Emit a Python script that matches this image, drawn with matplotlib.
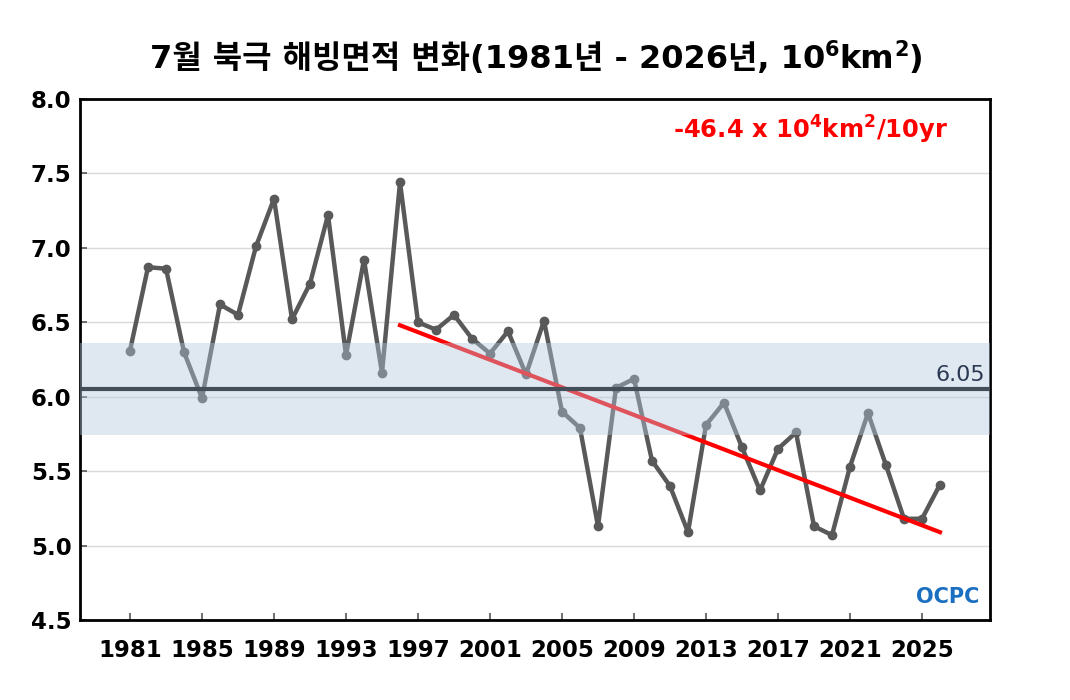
import matplotlib
matplotlib.use("Agg")
import matplotlib.pyplot as plt
import numpy as np

plt.rcParams['font.family'] = ['DejaVu Sans']
plt.rcParams['mathtext.fontset'] = 'custom'
plt.rcParams['mathtext.rm'] = 'DejaVu Sans:bold'
plt.rcParams['mathtext.bf'] = 'DejaVu Sans:bold'

# 7월 해빙면적 (10^6 km2)
years = list(range(1981, 2027))
extent = [6.31, 6.87, 6.86, 6.30, 5.99, 6.62, 6.55, 7.01, 7.33, 6.52,
          6.76, 7.22, 6.28, 6.92, 6.16, 7.44, 6.50, 6.45, 6.55, 6.39,
          6.29, 6.44, 6.15, 6.51, 5.90, 5.79, 5.13, 6.06, 6.12, 5.57,
          5.40, 5.09, 5.81, 5.96, 5.66, 5.37, 5.65, 5.76, 5.13, 5.07,
          5.53, 5.89, 5.54, 5.18, 5.18, 5.41]
clim_mean = 6.05
clim_std = 0.31
trend_years = [1996, 2026]
trend_vals = [6.48, 5.09]
trend_text = r'-46.4 x 10$^{4}$km$^{2}$/10yr'
# 제목 조각 (글자, 위첨자 여부)
title_parts = [('7월 북극 해빙면적 변화(1981년 - 2026년, 10', False), ('6', True),
               ('km', False), ('2', True), (')', False)]
xtick_years = list(range(1981, 2026, 4))
yticks = [4.5, 5.0, 5.5, 6.0, 6.5, 7.0, 7.5, 8.0]

fig = plt.figure(figsize=(10.7, 7.0), dpi=100)
ax = fig.add_axes([80 / 1070, 80 / 700, 910 / 1070, 521 / 700])

ax.plot(years, extent, color='#595959', lw=3.2, marker='o', ms=6, zorder=3)
ax.plot(trend_years, trend_vals, color='#ff0000', lw=3, zorder=4)
ax.axhspan(clim_mean - clim_std, clim_mean + clim_std, color='#b3c8dd', alpha=0.42, lw=0, zorder=5)
ax.axhline(clim_mean, color='#444e58', lw=3, zorder=6)
ax.text(0.995, clim_mean + 0.03, '%.2f' % clim_mean, transform=ax.get_yaxis_transform(),
        ha='right', va='bottom', fontsize=16, color='#2b3a52', zorder=7)

ax.text(0.954, 0.94, trend_text, transform=ax.transAxes, ha='right', va='center',
        fontsize=17.5, fontweight='bold', color='#ff0000')
ax.text(0.988, 0.045, 'OCPC', transform=ax.transAxes, ha='right', va='center',
        fontsize=15, fontweight='bold', color='#1a6fc0')

ax.set_xlim(1981 - 50 / 18, 1981 + 860 / 18)
ax.set_ylim(4.5, 8.0)
ax.set_xticks(xtick_years)
ax.set_yticks(yticks)
ax.set_yticklabels(['%.1f' % v for v in yticks])
ax.grid(axis='y', color='#d9d9d9', lw=1, zorder=1)
ax.set_axisbelow(True)
for s in ax.spines.values():
    s.set_linewidth(2)
    s.set_color('black')
ax.tick_params(direction='in', length=5, width=1.2, color='#555555', labelsize=16.5)
ax.tick_params(axis='x', pad=14)
ax.tick_params(axis='y', pad=6)
for lab in ax.get_xticklabels() + ax.get_yticklabels():
    lab.set_fontweight('bold')

# 제목: 조각들을 앞 조각 오른쪽 끝에 이어 붙임
fam = ['DejaVu Sans', 'Noto Sans CJK KR']
prev = fig.text(150 / 1070, 0.915, title_parts[0][0], ha='left', va='center',
                fontsize=23, fontweight='bold', family=fam)
base = prev
for txt, sup in title_parts[1:]:
    if sup:
        prev = ax.annotate(txt, xy=(1, 0.5), xycoords=(prev, base), ha='left', va='bottom',
                           fontsize=15, fontweight='bold', family=fam, annotation_clip=False)
    else:
        prev = ax.annotate(txt, xy=(1, 0), xycoords=(prev, base), ha='left', va='bottom',
                           fontsize=23, fontweight='bold', family=fam, annotation_clip=False)
        base = prev

fig.savefig('out.png', dpi=100)
